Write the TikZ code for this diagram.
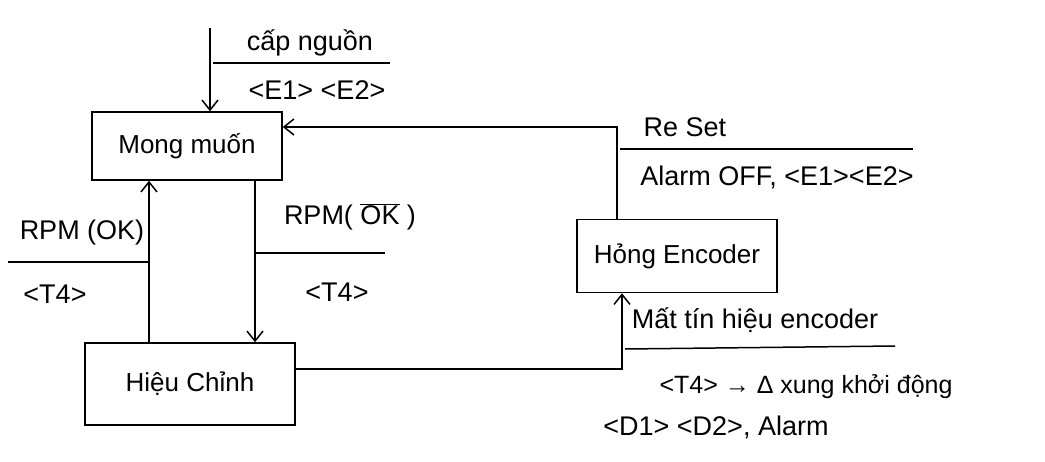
\documentclass[tikz,border=0pt]{standalone}
\usepackage{fontspec}
\setmainfont{Liberation Sans}
\usetikzlibrary{arrows.meta, positioning, calc}

\tikzset{
  state/.style={draw, line width=1.5pt, inner sep=0pt, font=\fontsize{26}{30}\selectfont},
  trans/.style={line width=1.5pt, -{Straight Barb[length=10pt, width=16pt, line width=1.5pt]}},
  guard/.style={line width=1.5pt},
  lbl/.style={inner sep=0pt, font=\fontsize{27}{31}\selectfont}
}

\begin{document}
\begin{tikzpicture}[x=1pt, y=-1pt]
  \useasboundingbox (0,0) rectangle (1045,461);

  % states
  \node[state, minimum width=190pt, minimum height=68pt] (mong) at (187,146) {Mong muốn};
  \node[state, minimum width=200pt, minimum height=73pt] (hong) at (677,256) {Hỏng Encoder};
  \node[state, minimum width=210pt, minimum height=82pt] (hieu) at (190,384) {Hiệu Chỉnh};

  % transitions
  \coordinate (start) at (210,28);
  \draw[trans] (start) -- (start |- mong.north);
  \draw[trans] ([xshift=68pt]mong.south) -- ([xshift=68pt]mong.south |- hieu.north);
  \draw[trans] ([xshift=-41pt]hieu.north) -- ([xshift=-41pt]hieu.north |- mong.south);
  \draw[trans] ([yshift=15pt]hieu.east) -| ([xshift=-55pt]hong.south);
  \draw[trans] ([xshift=-60pt]hong.north) |- ([yshift=19pt]mong.east);

  % labels: power on
  \node[lbl] (capnguon) at (310,43) {cấp nguồn};
  \draw[guard] (213,63) -- (390,63);
  \node[lbl] (capact) at (317,90) {<E1> <E2>};

  % labels: back to Mong muon
  \node[lbl] (okup) at (82,233) {RPM (OK)};
  \draw[guard] (8,262) -- (149,262);
  \node[lbl] (t4up) at (55,294) {<T4>};

  % labels: down to Hieu chinh
  \node[lbl] (okdown) at (350,217) {RPM( $\overline{\mbox{OK}}$ )};
  \draw[guard] (255,253) -- (385,253);
  \node[lbl] (t4down) at (337,292) {<T4>};

  % labels: reset
  \node[lbl] (reset) at (685,127) {Re Set};
  \draw[guard] (620,149) -- (913,149);
  \node[lbl] (resetact) at (777,177) {Alarm OFF, <E1><E2>};

  % labels: encoder lost
  \node[lbl] (mat) at (755,320) {Mất tín hiệu encoder};
  \draw[guard] (625,349) -- (895,346);
  \node[lbl, font=\fontsize{25}{29}\selectfont] (matact) at (806,387) {<T4> → Δ xung khởi động};
  \node[lbl] (matalarm) at (716,427) {<D1> <D2>, Alarm};
\end{tikzpicture}
\end{document}
